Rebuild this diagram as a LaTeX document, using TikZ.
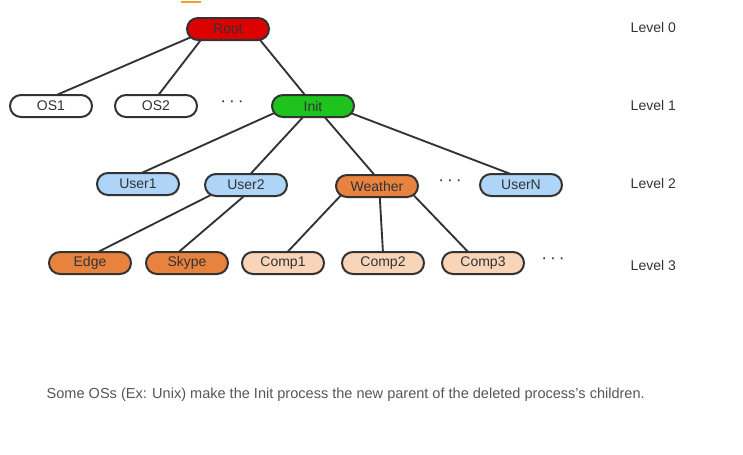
\documentclass[tikz,border=0pt]{standalone}
\usepackage{fontspec}
\setmainfont{Liberation Sans}
\usetikzlibrary{calc,backgrounds}
\definecolor{txt}{HTML}{333333}
\definecolor{rootred}{HTML}{DD0000}
\definecolor{initgreen}{HTML}{1EC31E}
\definecolor{userblue}{HTML}{AED4F8}
\definecolor{procorange}{HTML}{E8833F}
\definecolor{comppeach}{HTML}{F8D5B8}
\definecolor{capgray}{HTML}{555555}
\definecolor{topline}{HTML}{F0A030}
\tikzset{
  proc/.style={draw=txt, line width=1.5pt, rounded corners=8.2pt, minimum width=61.5pt, minimum height=16.5pt, inner sep=0pt, font=\fontsize{10.5}{12}\selectfont, text=txt},
  link/.style={draw=txt, line width=1.4pt},
  lvl/.style={anchor=west, font=\fontsize{10.5}{12}\selectfont, text=txt},
  dots/.style={font=\fontsize{13}{14}\selectfont, text=txt}
}
\newcommand{\lnk}[4]{\draw[link] ($(#1.center)!0.85!(#1.#2)$) -- ($(#3.center)!0.85!(#3.#4)$);}
\begin{document}
\begin{tikzpicture}[x=0.75pt,y=-0.75pt]
\useasboundingbox (0,0) rectangle (743,454);
\fill[topline] (181,0.5) rectangle (201,2.5);
% nodes
\node[proc, fill=rootred] (root) at (228,29) {Root};
\node[proc, fill=white] (os1) at (51,106) {OS1};
\node[proc, fill=white] (os2) at (156,106) {OS2};
\node[dots] (d1) at (232,104) {·\,·\,·};
\node[proc, fill=initgreen] (init) at (313,106) {Init};
\node[proc, fill=userblue] (user1) at (138,184) {User1};
\node[proc, fill=userblue] (user2) at (246,185) {User2};
\node[proc, fill=procorange] (weather) at (377,186) {Weather};
\node[dots] (d2) at (450,183) {·\,·\,·};
\node[proc, fill=userblue] (usern) at (521,185) {UserN};
\node[proc, fill=procorange] (edge) at (90,263) {Edge};
\node[proc, fill=procorange] (skype) at (187,263) {Skype};
\node[proc, fill=comppeach] (comp1) at (283,263) {Comp1};
\node[proc, fill=comppeach] (comp2) at (383,263) {Comp2};
\node[proc, fill=comppeach] (comp3) at (483,263) {Comp3};
\node[dots] (d3) at (553,261) {·\,·\,·};
% levels
\node[lvl] (l0) at (626,27) {Level 0};
\node[lvl] (l1) at (626,105) {Level 1};
\node[lvl] (l2) at (626,183) {Level 2};
\node[lvl] (l3) at (626,265) {Level 3};
% caption
\node[anchor=west, font=\fontsize{10.9}{12}\selectfont, text=capgray] (cap) at (42,395) {Some OSs (Ex: Unix) make the Init process the new parent of the deleted process's children.};
% links
\begin{scope}[on background layer]
\lnk{root}{192}{os1}{70}
\lnk{root}{201}{os2}{80}
\lnk{root}{342}{init}{126}
\lnk{init}{189}{user1}{80}
\lnk{init}{228}{user2}{70}
\lnk{init}{317}{weather}{100}
\lnk{init}{350}{usern}{129}
\lnk{user2}{196}{edge}{58}
\lnk{user2}{265}{skype}{132}
\lnk{weather}{194}{comp1}{70}
\lnk{weather}{285}{comp2}{90}
\lnk{weather}{347}{comp3}{144}
\end{scope}
\end{tikzpicture}
\end{document}
